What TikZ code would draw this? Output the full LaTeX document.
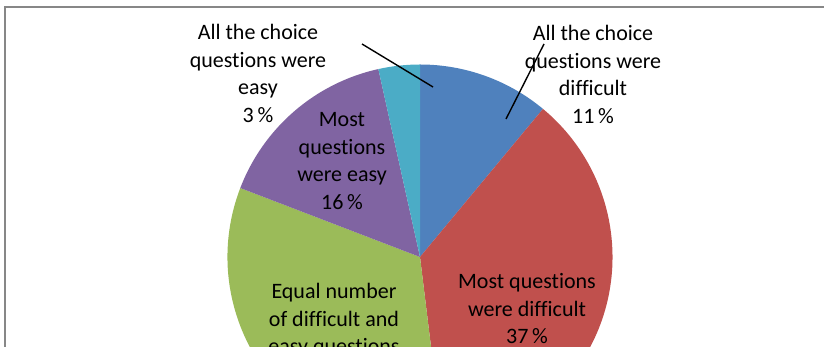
\documentclass[tikz,border=0pt]{standalone}
\usepackage{fontspec}
\setmainfont[Ligatures={NoCommon}]{Carlito}
\definecolor{sblue}{HTML}{4F81BD}
\definecolor{sred}{HTML}{C0504D}
\definecolor{sgreen}{HTML}{9BBB59}
\definecolor{spurple}{HTML}{8064A2}
\definecolor{scyan}{HTML}{4BACC6}
\definecolor{frame}{HTML}{878787}
\tikzset{
  lbl/.style={align=center, inner sep=0pt, anchor=north, text=black,
    font=\fontsize{22}{27.7}\selectfont},
  leader/.style={draw=black, line width=1.4pt},
}
\begin{document}
\begin{tikzpicture}[x=1pt,y=1pt]
\useasboundingbox (0,0) rectangle (824,347);
\clip (0,0) rectangle (824,347);
\fill[white] (0,0) rectangle (824,347);
\coordinate (c) at (420,90);
\def\R{192.5}
% slices
\fill[sblue] (c) -- ++(50.3:\R) arc[start angle=50.3, end angle=90, radius=\R] -- cycle;
\fill[sred] (c) -- ++(-83:\R) arc[start angle=-83, end angle=50.3, radius=\R] -- cycle;
\fill[sgreen] (c) -- ++(159:\R) arc[start angle=159, end angle=277, radius=\R] -- cycle;
\fill[spurple] (c) -- ++(102.5:\R) arc[start angle=102.5, end angle=159, radius=\R] -- cycle;
\fill[scyan] (c) -- ++(90:\R) arc[start angle=90, end angle=102.5, radius=\R] -- cycle;
% frame
\draw[frame, line width=2pt] (5,-10) -- (5,339.5) -- (840,339.5);
% labels
\node[lbl] (easy3) at (258,323) {All the choice\\questions were\\easy\\3\,\%};
\node[lbl] (diff11) at (593,322) {All the choice\\questions were\\difficult\\11\,\%};
\node[lbl] (easy16) at (342,235) {Most\\questions\\were easy\\16\,\%};
\node[lbl] (diff37) at (527,74) {Most questions\\were difficult\\37\,\%};
\node[lbl] (equal33) at (334,64) {Equal number\\of difficult and\\easy questions\\33\,\%};
% leader lines
\coordinate (l1a) at (362,303);
\coordinate (l1b) at (433,260);
\coordinate (l2a) at (544,303);
\coordinate (l2b) at (506,228);
\draw[leader] (l1a) -- (l1b);
\draw[leader] (l2a) -- (l2b);
\end{tikzpicture}
\end{document}
